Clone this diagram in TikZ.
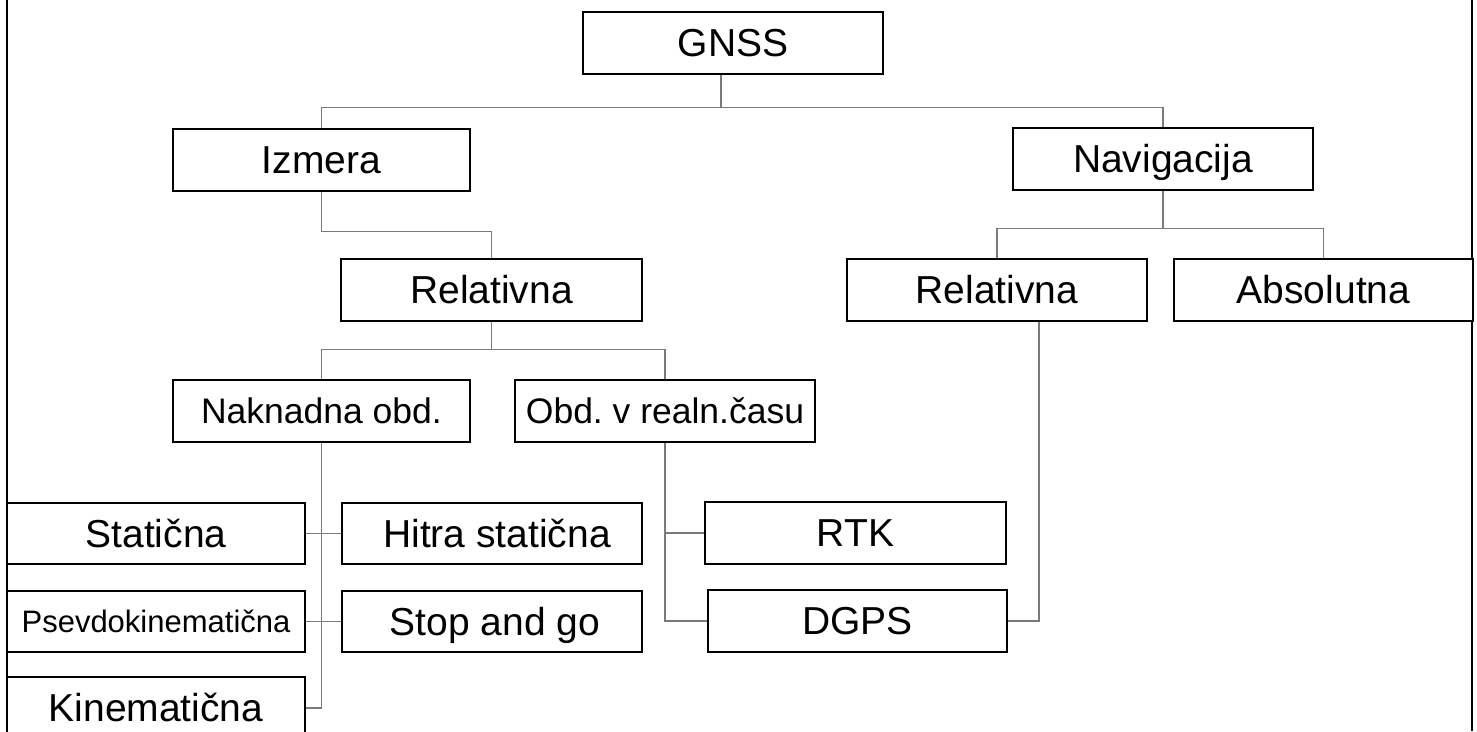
\documentclass[tikz,border=0pt]{standalone}
\usepackage{fontspec}
\setmainfont{Liberation Sans}
\frenchspacing
\newcommand\lblfont{\fontsize{39}{46}\selectfont}
\newcommand\midlblfont{\fontsize{35.5}{42}\selectfont}
\newcommand\smlblfont{\fontsize{31}{37}\selectfont}
% fixed line box so every label sits at the same height in its box
\newcommand\linestrut{\rule[-0.184em]{0pt}{1.084em}}
\definecolor{linkgray}{HTML}{7A7A7A}
\begin{document}
\begin{tikzpicture}[x=1pt,y=-1pt,
  box/.style={draw=black, line width=1.3pt, fill=white, inner sep=0pt,
    minimum height=62pt, font=\lblfont, execute at begin node=\linestrut},
  conn/.style={draw=linkgray, line width=1.3pt},
  frame/.style={draw=black, line width=2.2pt}]
\clip (0,0) rectangle (1477,731);

% side rules of the page frame
\draw[frame] (7,0) -- (7,731);
\draw[frame] (1472,0) -- (1472,731);

% tree nodes
\node[box, minimum width=300pt] (gnss) at (733,43) {GNSS};
\node[box, minimum width=297pt] (izm)  at (321.5,160) {Izmera};
\node[box, minimum width=300pt] (nav)  at (1163,159) {Navigacija};
\node[box, minimum width=301pt] (relL) at (491.5,290) {Relativna};
\node[box, minimum width=300pt] (relR) at (997,290) {Relativna};
\node[box, minimum width=299pt] (abs)  at (1323.5,290) {Absolutna};
\node[box, minimum width=297pt, font=\midlblfont] (nak) at (321.5,411) {Naknadna obd.};
\node[box, minimum width=300pt, font=\midlblfont] (obd) at (665,411) {Obd. v realn.času};
\node[box, minimum width=298pt, minimum height=61pt] (stat) at (156,533.5) {Statična};
\node[box, minimum width=300pt, minimum height=61pt] (hit)  at (492,533.5) {\hspace*{10pt}Hitra statična};
\node[box, minimum width=298pt, minimum height=61pt, font=\smlblfont] (psev) at (156,621.5) {Psevdokinematična};
\node[box, minimum width=300pt, minimum height=61pt] (stop) at (492,621.5) {\hspace*{6pt}Stop and go};
\node[box, minimum width=298pt] (kin)  at (156,708) {Kinematična};
\node[box, minimum width=301pt] (rtk)  at (855.5,533) {RTK};
\node[box, minimum width=299pt] (dgps) at (857.5,621) {DGPS};

% connectors
\draw[conn] ([xshift=-12pt]gnss.south) -- ++(0,33) -| (izm.north);
\draw[conn] ([xshift=-12pt]gnss.south) -- ++(0,33) -| (nav.north);
\draw[conn] (izm.south) -- ++(0,40) -| (relL.north);
\draw[conn] (relL.south) -- ++(0,28) -| (nak.north);
\draw[conn] (relL.south) -- ++(0,28) -| (obd.north);
\draw[conn] (nav.south) -- ++(0,38) -| (relR.north);
\draw[conn] (nav.south) -- ++(0,38) -| (abs.north);
\draw[conn] (nak.south) -- (nak.south |- kin.east) -- (kin.east);
\draw[conn] (stat.east) -- (hit.west);
\draw[conn] (psev.east) -- (stop.west);
\draw[conn] (obd.south) -- (obd.south |- dgps.west) -- (dgps.west);
\draw[conn] (obd.south |- rtk.west) -- (rtk.west);
\draw[conn] ([xshift=42pt]relR.south) -- ([xshift=42pt]relR.south |- dgps.east) -- (dgps.east);
\end{tikzpicture}
\end{document}
